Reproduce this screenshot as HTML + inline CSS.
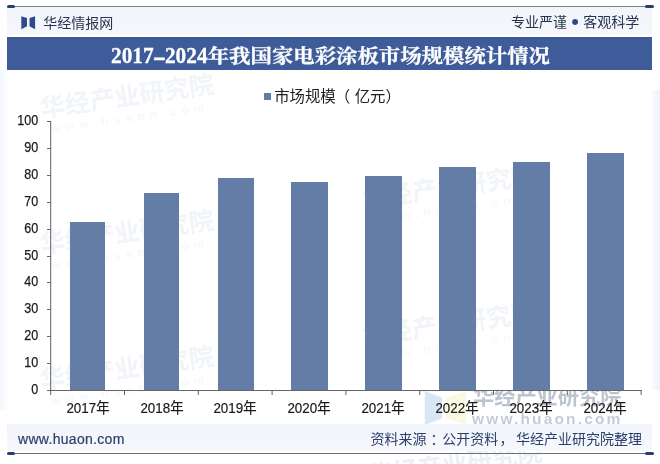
<!DOCTYPE html>
<html lang="zh-CN">
<head>
<meta charset="utf-8">
<title>2017-2024年我国家电彩涂板市场规模统计情况</title>
<style>
html,body{margin:0;padding:0;}
body{width:660px;height:464px;position:relative;overflow:hidden;background:#fff;font-family:"Liberation Sans","Noto Sans CJK SC",sans-serif;}
.abs{position:absolute;}
.edgeL{left:0;top:70px;width:8px;height:340px;background:linear-gradient(to right,#f3f7fd,#fdfeff);}
.edgeR{left:652px;top:90px;width:8px;height:300px;background:linear-gradient(to left,#eef3fb,#f8faff);}
.topband{left:7px;top:7px;width:645px;height:27.5px;background:linear-gradient(to bottom,#f1f4fa,#f5f7fc);}
.topline{left:7px;top:6px;width:647px;height:1.4px;background:#7d8189;}
.capL{left:7px;top:5px;width:8px;height:3px;background:#2b3f6e;border-radius:1.5px;}
.capR{left:645px;top:5px;width:9px;height:3px;background:#2b3f6e;border-radius:1.5px;}
.brand{left:43.2px;top:12.6px;font-size:14px;line-height:20px;color:#27334f;letter-spacing:0px;white-space:nowrap;}
.slogan{right:20.8px;top:12px;font-size:14px;letter-spacing:0;line-height:20px;color:#27334f;white-space:nowrap;}
.slogan .dot{display:inline-block;width:16.2px;text-align:center;font-size:22px;line-height:10px;letter-spacing:0;position:relative;top:2px;left:0px;color:#2b488a;}
.banner{left:7px;top:36.5px;width:645px;height:33.5px;background:#3e5c99;}
.title{left:111px;top:42px;-webkit-text-stroke:0.3px #fff;transform:scaleY(0.92);transform-origin:0 50%;color:#fff;font-family:"Liberation Serif","Noto Serif CJK SC",serif;font-weight:bold;font-size:21.4px;line-height:28px;white-space:nowrap;}
.title .lat{display:inline-block;font-size:24.5px;transform:scaleX(0.87);transform-origin:0 50%;margin-right:-14.3px;vertical-align:baseline;}
.title .hy{display:inline-block;width:13px;text-align:center;transform:scale(1.86,1.25);}
.legend{left:264.4px;top:87px;font-size:15.4px;line-height:20px;color:#222;white-space:nowrap;}
.legend i{display:inline-block;width:7px;height:7px;background:#647da6;margin-right:2.8px;vertical-align:1.8px;}
.ylab{width:38.3px;text-align:right;left:0;font-size:14.5px;line-height:16px;color:#1a1a1a;transform:scaleX(0.865);transform-origin:100% 50%;-webkit-text-stroke:0.25px #1a1a1a;}
.xlab{width:74px;text-align:center;top:398.6px;font-size:14.4px;line-height:18px;transform:scaleX(0.93);color:#1a1a1a;white-space:nowrap;-webkit-text-stroke:0.2px #1a1a1a;}
.bar{background:#647da6;width:36px;}
.footband{left:7px;top:423.7px;width:645px;height:27px;background:linear-gradient(to bottom,#f1f4fa,#f6f8fc);}
.footline{left:7px;top:453px;width:647px;height:1.2px;background:#6a6f7a;}
.fcapL{left:7px;top:452px;width:8px;height:3px;background:#2b3f6e;border-radius:1.5px;}
.fcapR{left:645px;top:452px;width:9px;height:3px;background:#2b3f6e;border-radius:1.5px;}
.url{left:18px;top:429px;font-size:14px;line-height:20px;color:#2b3f6a;letter-spacing:0.3px;-webkit-text-stroke:0.2px #2b3f6a;}
.src{left:370.6px;top:429px;font-size:14px;line-height:20px;color:#2b3f6a;letter-spacing:0px;white-space:nowrap;}
.fw{width:180px;text-align:center;transform:rotate(-8deg);white-space:nowrap;color:#f1f4f9;font-weight:bold;}
.fw1{font-size:25px;line-height:30px;}
.fw2{font-size:12px;line-height:14px;letter-spacing:5px;color:#f6f8fb;}
.wm{color:#b9c5d6;white-space:nowrap;}
</style>
</head>
<body>
<div class="abs edgeL"></div>
<div class="abs edgeR"></div>
<div class="abs fw" style="left:38px;top:81px;"><div class="fw1">华经产业研究院</div><div class="fw2">www.huaon.com</div></div>
<div class="abs fw" style="left:38px;top:217px;"><div class="fw1">华经产业研究院</div><div class="fw2">www.huaon.com</div></div>
<div class="abs fw" style="left:38px;top:353px;"><div class="fw1">华经产业研究院</div><div class="fw2">www.huaon.com</div></div>
<div class="abs fw" style="left:360px;top:172px;"><div class="fw1">华经产业研究院</div><div class="fw2">www.huaon.com</div></div>
<div class="abs fw" style="left:360px;top:309px;"><div class="fw1">华经产业研究院</div><div class="fw2">www.huaon.com</div></div>
<div class="abs fw" style="left:365px;top:449px;"><div class="fw1" style="color:#eceff4">华经产业研究院</div></div>
<div class="abs topband"></div>
<div class="abs topline"></div>
<div class="abs capL"></div>
<div class="abs capR"></div>
<svg class="abs" style="left:0;top:0" width="60" height="40" viewBox="0 0 60 40"><path d="M21.3 16.2 L27 18 L27 26.2 L21.3 29.2 Z" fill="#2b4b8e"/><path d="M35.1 16.2 L29.5 18 L29.5 26.2 L35.1 29.2 Z" fill="#2b4b8e"/></svg>
<div class="abs brand">华经情报网</div>
<div class="abs slogan">专业严谨<span class="dot">•</span>客观科学</div>
<div class="abs banner"></div>
<div class="abs title"><span class="lat">2017<span class="hy">-</span>2024</span>年我国家电彩涂板市场规模统计情况</div>

<div class="abs" style="left:460px;top:390.5px;width:180px;height:40px;overflow:hidden;">
<div class="abs wm" id="wm1" style="left:13px;top:-7px;font-size:21.2px;line-height:26px;font-weight:bold;color:#bcc4d0;">华经产业研究院</div>
<div class="abs wm" id="wm2" style="left:12px;top:19px;font-size:15.5px;line-height:18px;font-weight:bold;letter-spacing:2.15px;color:#c6ccd6;">www.huaon.com</div>
</div>

<svg class="abs" style="left:420px;top:390.5px" width="52" height="36" viewBox="420 390.5 52 36"><path d="M424.8 390.5 L442 397 L442 418 L424.8 424.5 Z" fill="#d9e6f6"/><path d="M446 397 L466.5 390.5 L466.5 424.5 L446 418 Z" fill="#fbf9e3"/></svg>
<div class="abs legend"><i></i>市场规模<span style="margin:0 4.5px 0 -1px">（</span>亿元）</div>

<div class="abs bar" style="left:69.90px;width:35.50px;top:222.2px;height:167.80px"></div>
<div class="abs bar" style="left:143.71px;width:35.76px;top:192.9px;height:197.10px"></div>
<div class="abs bar" style="left:217.52px;width:36.02px;top:178px;height:212.00px"></div>
<div class="abs bar" style="left:291.33px;width:36.28px;top:182.3px;height:207.70px"></div>
<div class="abs bar" style="left:365.14px;width:36.54px;top:175.9px;height:214.10px"></div>
<div class="abs bar" style="left:438.95px;width:36.80px;top:166.5px;height:223.50px"></div>
<div class="abs bar" style="left:512.76px;width:37.06px;top:161.9px;height:228.10px"></div>
<div class="abs bar" style="left:586.57px;width:37.32px;top:153.4px;height:236.60px"></div>
<div class="abs ylab" style="top:381.00px">0</div>
<div class="abs ylab" style="top:354.10px">10</div>
<div class="abs ylab" style="top:327.20px">20</div>
<div class="abs ylab" style="top:300.30px">30</div>
<div class="abs ylab" style="top:273.40px">40</div>
<div class="abs ylab" style="top:246.50px">50</div>
<div class="abs ylab" style="top:219.60px">60</div>
<div class="abs ylab" style="top:192.70px">70</div>
<div class="abs ylab" style="top:165.80px">80</div>
<div class="abs ylab" style="top:138.90px">90</div>
<div class="abs ylab" style="top:112.00px">100</div>
<div class="abs xlab" style="left:50.60px">2017年</div>
<div class="abs xlab" style="left:124.54px">2018年</div>
<div class="abs xlab" style="left:198.48px">2019年</div>
<div class="abs xlab" style="left:272.42px">2020年</div>
<div class="abs xlab" style="left:346.36px">2021年</div>
<div class="abs xlab" style="left:420.30px">2022年</div>
<div class="abs xlab" style="left:494.24px">2023年</div>
<div class="abs xlab" style="left:568.18px">2024年</div>
<svg class="abs" style="left:0;top:0" width="660" height="464">
<g stroke="#666" stroke-width="1" fill="none" shape-rendering="crispEdges">
<line x1="47" y1="390.5" x2="641.5" y2="390.5"/>
<line x1="46.5" y1="390.5" x2="51" y2="390.5"/>
<line x1="46.5" y1="363.5" x2="51" y2="363.5"/>
<line x1="46.5" y1="336.5" x2="51" y2="336.5"/>
<line x1="46.5" y1="309.5" x2="51" y2="309.5"/>
<line x1="46.5" y1="282.5" x2="51" y2="282.5"/>
<line x1="46.5" y1="256.5" x2="51" y2="256.5"/>
<line x1="46.5" y1="229.5" x2="51" y2="229.5"/>
<line x1="46.5" y1="202.5" x2="51" y2="202.5"/>
<line x1="46.5" y1="175.5" x2="51" y2="175.5"/>
<line x1="46.5" y1="148.5" x2="51" y2="148.5"/>
<line x1="46.5" y1="121.5" x2="51" y2="121.5"/>
</g>
<g stroke="#606060" stroke-width="1" fill="none">
<line x1="50.7" y1="121" x2="50.7" y2="395"/>
<line x1="124.50" y1="390" x2="124.50" y2="395"/>
<line x1="198.30" y1="390" x2="198.30" y2="395"/>
<line x1="272.10" y1="390" x2="272.10" y2="395"/>
<line x1="345.90" y1="390" x2="345.90" y2="395"/>
<line x1="419.70" y1="390" x2="419.70" y2="395"/>
<line x1="493.50" y1="390" x2="493.50" y2="395"/>
<line x1="567.30" y1="390" x2="567.30" y2="395"/>
<line x1="641.10" y1="390" x2="641.10" y2="395"/>
</g>
</svg>

<div class="abs footband"></div>
<div class="abs footline"></div>
<div class="abs fcapL"></div>
<div class="abs fcapR"></div>
<div class="abs url">www.huaon.com</div>
<div class="abs src">资料来源<span style="margin:0 -2.4px 0 4px">：</span>公开资料<span style="margin:0 2.6px 0 1.2px">，</span>华经产业研究院整理</div>
</body>
</html>
